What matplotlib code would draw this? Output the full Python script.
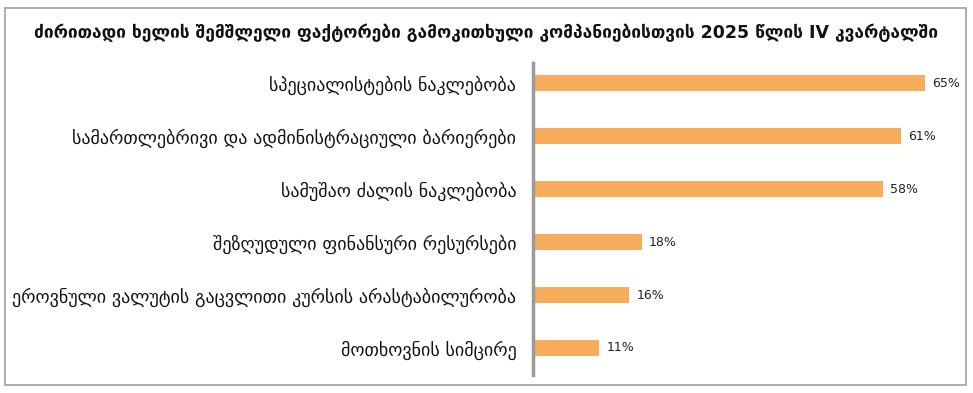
import matplotlib
matplotlib.use("Agg")
import matplotlib.pyplot as plt
from matplotlib.patches import Rectangle

# მონაცემები
categories = [
    "სპეციალისტების ნაკლებობა",
    "სამართლებრივი და ადმინისტრაციული ბარიერები",
    "სამუშაო ძალის ნაკლებობა",
    "შეზღუდული ფინანსური რესურსები",
    "ეროვნული ვალუტის გაცვლითი კურსის არასტაბილურობა",
    "მოთხოვნის სიმცირე",
]
values = [65, 61, 58, 18, 16, 11]
title = "ძირითადი ხელის შემშლელი ფაქტორები გამოკითხული კომპანიებისთვის 2025 წლის IV კვარტალში"

plt.rcParams["font.family"] = ["DejaVu Sans"]

fig = plt.figure(figsize=(9.73, 3.93), dpi=100)
fig.patches.append(Rectangle((5 / 973, 8 / 393), 961 / 973, 377 / 393,
                             transform=fig.transFigure, fill=False,
                             edgecolor="#a0a0a0", lw=1.2))
fig.text(0.5, 1 - 33 / 393, title, ha="center", va="center",
         fontsize=12.5, fontweight="bold", color="#111111")

ax = fig.add_axes([533 / 973, 18 / 393, 427 / 973, 312 / 393])
y = list(range(len(categories)))
ax.barh(y, values, height=0.3, color="#F8AD5C")
for yi, v in zip(y, values):
    ax.text(v + 1.2, yi, f"{v}%", va="center", ha="left", fontsize=9, color="#222222")

ax.set_xlim(0, 70.8)
ax.set_ylim(5.51, -0.38)
ax.set_yticks(y)
ax.set_yticklabels(categories, fontsize=13, color="#111111")
ax.tick_params(axis="y", length=0, pad=12)
ax.set_xticks([])
for s in ["top", "right", "bottom"]:
    ax.spines[s].set_visible(False)
ax.spines["left"].set_color("#9a9a9a")
ax.spines["left"].set_linewidth(2.5)

fig.savefig("out.png", dpi=100)
